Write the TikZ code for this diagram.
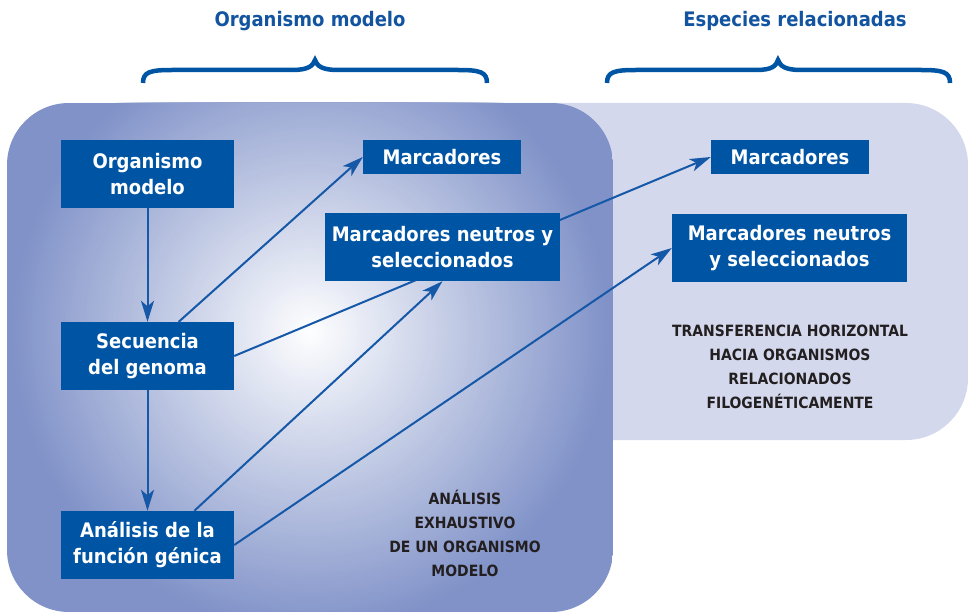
\documentclass[tikz,border=0pt]{standalone}
\usepackage{fontspec}
\setmainfont{DejaVu Sans Condensed}
\usetikzlibrary{arrows.meta,calc}
\definecolor{boxblue}{RGB}{0,84,164}
\definecolor{arrblue}{RGB}{22,88,168}
\definecolor{outerblue}{RGB}{128,146,200}
\definecolor{lightblue}{RGB}{211,216,236}
\definecolor{darktext}{RGB}{35,31,32}
\definecolor{titleblue}{RGB}{18,84,160}
\pgfdeclarelayer{bg}
\pgfdeclarelayer{conn}
\pgfsetlayers{bg,conn,main}
\tikzset{
  box/.style={fill=boxblue, text=white, font=\bfseries\fontsize{20}{26}\selectfont, align=center, inner sep=0pt},
  tall/.style={box, minimum height=68pt},
  short/.style={box, minimum height=34pt},
  conn/.style={arrblue, line width=2pt, -{Stealth[length=21pt, width=13pt, inset=5.5pt]}},
  note/.style={text=darktext, font=\bfseries\fontsize{15.5}{24}\selectfont, align=center},
  title/.style={text=titleblue, font=\bfseries\fontsize{20}{24}\selectfont},
  brace/.style={boxblue, line width=4.5pt}
}
\begin{document}
\begin{tikzpicture}[x=1pt, y=-1pt]
\useasboundingbox (0,0) rectangle (968,612);
\begin{pgfonlayer}{bg}
  \fill[lightblue, rounded corners=62pt] (400,103) rectangle (968,440);
  \begin{scope}
    \clip[rounded corners=62pt] (7,103) rectangle (613,612);
    \fill[outerblue] (7,103) rectangle (613,612);
    \foreach \k in {0,...,99}{
      \fill[white!\k!outerblue] (310,332) circle[radius={(300-3*\k)*1pt}];
    }
  \end{scope}
\end{pgfonlayer}

% braces
\draw[brace] (143,83) .. controls (143,72) and (150,70) .. (172,70) -- (292,70)
  .. controls (308,70) and (313,66) .. (315,60)
  .. controls (317,66) and (322,70) .. (338,70) -- (458,70)
  .. controls (480,70) and (487,72) .. (487,83);
\draw[brace] (607,83) .. controls (607,72) and (614,70) .. (636,70) -- (756,70)
  .. controls (772,70) and (776,66) .. (778,60)
  .. controls (780,66) and (785,70) .. (801,70) -- (921,70)
  .. controls (943,70) and (950,72) .. (950,83);

\node[title] (t1) at (310,21) {Organismo modelo};
\node[title] (t2) at (795,21) {Especies relacionadas};

\node[tall, minimum width=173pt] (om) at (147.5,174) {Organismo\\modelo};
\node[tall, minimum width=173pt] (sg) at (147.5,356) {Secuencia\\del genoma};
\node[tall, minimum width=173pt] (an) at (147.5,545) {Análisis de la\\función génica};
\node[short, minimum width=158pt] (m1) at (442,157) {Marcadores};
\node[tall, minimum width=235pt] (n1) at (442.5,247) {Marcadores neutros y\\seleccionados};
\node[short, minimum width=158pt] (m2) at (790,157) {Marcadores};
\node[tall, minimum width=235pt] (n2) at (789.5,248) {Marcadores neutros\\y seleccionados};

\node[note] (la) at (465,533) {ANÁLISIS\\EXHAUSTIVO\\DE UN ORGANISMO\\MODELO};
\node[note] (lb) at (790,367) {TRANSFERENCIA HORIZONTAL\\HACIA ORGANISMOS\\RELACIONADOS\\FILOGENÉTICAMENTE};

\begin{pgfonlayer}{conn}
  \draw[conn] (om.south) -- (sg.north);
  \draw[conn] (sg.south) -- (an.north);
  \draw[conn] ($(sg.north west)!0.68!(sg.north east)$) -- (m1.west);
  \draw[conn] (sg.east) -- (m2.west);
  \draw[conn] ($(an.north west)!0.77!(an.north east)$) -- (n1.south);
  \draw[conn] (an.east) -- (n2.west);
\end{pgfonlayer}
\end{tikzpicture}
\end{document}
